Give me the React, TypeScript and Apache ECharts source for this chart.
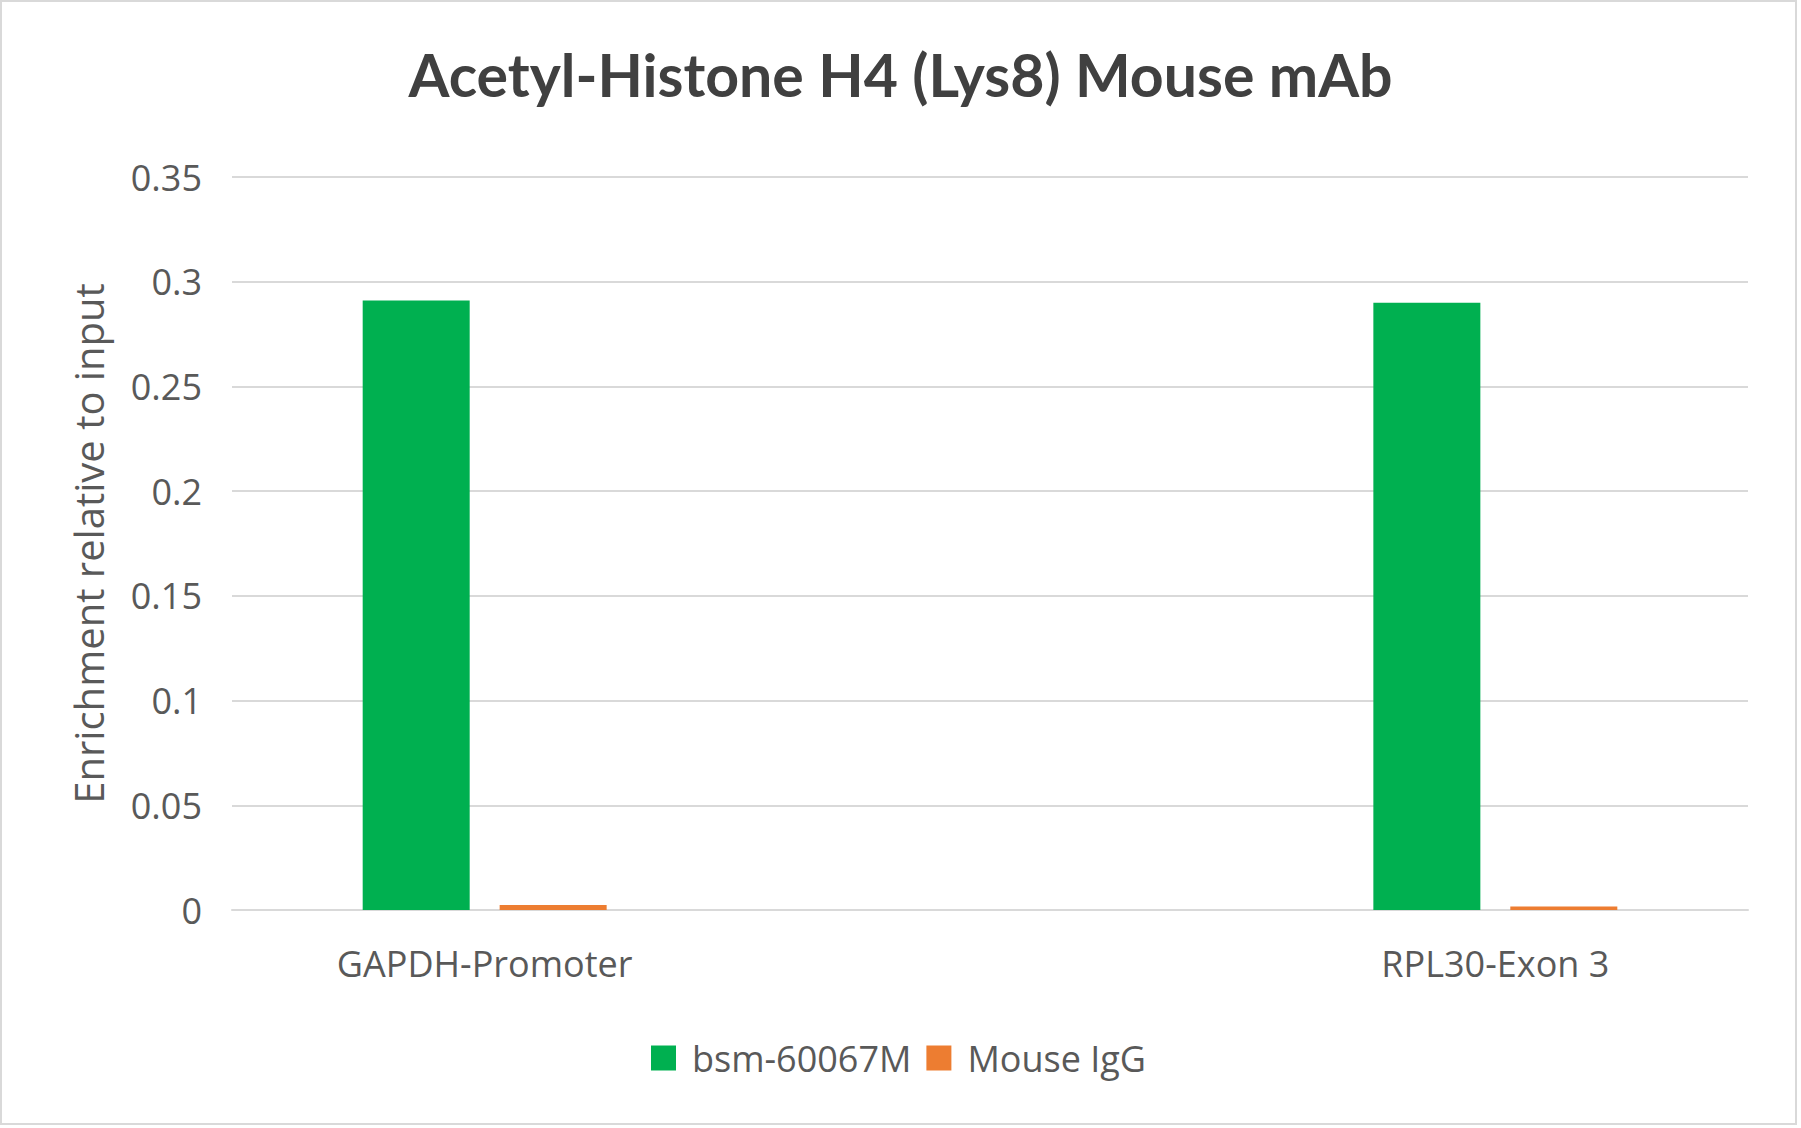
import React, { useEffect, useRef } from "react";
import * as echarts from "echarts";

const categories = ["GAPDH-Promoter", "", "RPL30-Exon 3"];
const antibodyValues = [0.291, null, 0.290];
const iggValues = [0.0024, null, 0.0017];
const seriesNames = ["bsm-60067M", "Mouse IgG"];
const chartTitle = "Acetyl-Histone H4 (Lys8) Mouse mAb";
const yAxisTitle = "Enrichment relative to input";

export default function App() {
  const ref = useRef<HTMLDivElement>(null);
  useEffect(() => {
    document.body.style.margin = "0";
    const chart = echarts.init(ref.current!, null, { renderer: "svg" });
    const font = "'Open Sans', sans-serif";
    chart.setOption({
      animation: false,
      backgroundColor: "#ffffff",
      title: {
        text: chartTitle,
        left: "center",
        top: 40,
        textStyle: {
          fontFamily: "Lato, sans-serif",
          fontWeight: "bold",
          fontSize: 59,
          color: "#404040",
        },
      },
      graphic: [
        {
          type: "rect",
          shape: { x: 1, y: 1, width: 1795, height: 1123 },
          style: { fill: "none", stroke: "#d9d9d9", lineWidth: 2 },
          silent: true,
        },
      ],
      legend: {
        left: 651,
        top: 1040,
        padding: 0,
        itemWidth: 25,
        itemHeight: 25,
        itemGap: 15,
        icon: "rect",
        textStyle: {
          fontFamily: font,
          fontSize: 36,
          color: "#595959",
          padding: [0, 0, 0, 11],
        },
        data: seriesNames,
      },
      grid: { left: 232, right: 53, top: 177, bottom: 218, containLabel: false },
      xAxis: {
        type: "category",
        data: categories,
        axisLine: { lineStyle: { color: "#d9d9d9", width: 2 } },
        axisTick: { show: false },
        axisLabel: {
          fontFamily: font,
          fontSize: 36,
          color: "#595959",
          margin: 35,
        },
      },
      yAxis: {
        type: "value",
        min: 0,
        max: 0.35,
        interval: 0.05,
        name: yAxisTitle,
        nameLocation: "middle",
        nameRotate: 90,
        nameGap: 124,
        nameTextStyle: { fontFamily: font, fontSize: 40, color: "#595959" },
        axisLine: { show: false },
        axisTick: { show: false },
        axisLabel: {
          fontFamily: font,
          fontSize: 36,
          color: "#595959",
          margin: 30,
        },
        splitLine: { lineStyle: { color: "#d9d9d9", width: 2 } },
      },
      series: [
        {
          name: seriesNames[0],
          type: "bar",
          data: antibodyValues,
          barWidth: 107,
          barGap: "28%",
          itemStyle: { color: "#00B050" },
        },
        {
          name: seriesNames[1],
          type: "bar",
          data: iggValues,
          barWidth: 107,
          itemStyle: { color: "#ED7D31" },
        },
      ],
    });
    return () => chart.dispose();
  }, []);
  return <div ref={ref} style={{ width: 1801, height: 1128 }} />;
}
